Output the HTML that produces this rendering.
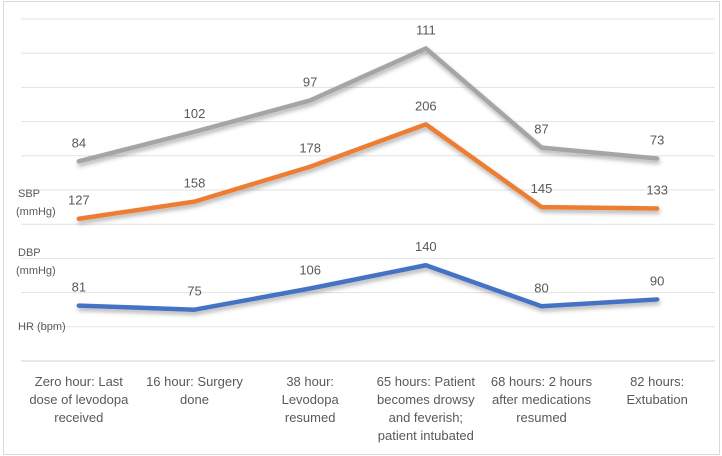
<!DOCTYPE html>
<html><head><meta charset="utf-8"><style>
body{margin:0;background:#fff;}
svg{display:block;font-family:"Liberation Sans",sans-serif;}
</style></head><body>
<svg id="chart" width="722" height="456">
<defs><filter id="sh" x="-10%" y="-10%" width="120%" height="140%"><feDropShadow dx="1" dy="3" stdDeviation="2" flood-color="#000" flood-opacity="0.3"/></filter></defs>
<rect x="3.5" y="1.5" width="716" height="453" fill="#fff" stroke="#d9d9d9"/>
<g id="grid"></g><g id="series"></g><g id="labels"></g><g id="xlabels"></g>
<text x="18" y="197" font-size="11" fill="#595959">SBP</text>
<text x="16" y="215" font-size="11" fill="#595959">(mmHg)</text>
<text x="18" y="256" font-size="11" fill="#595959">DBP</text>
<text x="16" y="274" font-size="11" fill="#595959">(mmHg)</text>
<text x="18" y="330" font-size="11" fill="#595959">HR (bpm)</text>
</svg>
<script>
const categories=[["Zero hour: Last","dose of levodopa","received"],["16 hour: Surgery","done"],["38 hour:","Levodopa","resumed"],["65 hours: Patient","becomes drowsy","and feverish;","patient intubated"],["68 hours: 2 hours","after medications","resumed"],["82 hours:","Extubation"]];
const hrValues=[81,75,106,140,80,90];
const sbpValues=[127,158,178,206,145,133];
const dbpValues=[84,102,97,111,87,73];
const yTicks=[0,50,100,150,200,250,300,350,400,450,500];
const NS="http://www.w3.org/2000/svg";
const x0=21,x1=715,yBase=361,yTop=19,yMax=500;
const bw=(x1-x0)/categories.length;
const xs=i=>x0+bw*(i+0.5);
const ys=v=>yBase-(v/yMax)*(yBase-yTop);
function mk(t,a,p){const e=document.createElementNS(NS,t);for(const k in a)e.setAttribute(k,a[k]);p.appendChild(e);return e;}
const g=document.getElementById('grid');
yTicks.forEach(v=>{const l=mk('line',{x1:x0,x2:x1,y1:ys(v),y2:ys(v),stroke:v===0?'#d0d0d0':'#e2e2e2','stroke-width':1},g);

});
// stacked line
const s1=hrValues.slice();
const s2=hrValues.map((v,i)=>v+sbpValues[i]);
const s3=s2.map((v,i)=>v+dbpValues[i]);
const series=[[s1,hrValues,'#4472c4','hr-line'],[s2,sbpValues,'#ed7d31','sbp-line'],[s3,dbpValues,'#a5a5a5','dbp-line']];
const sg=document.getElementById('series'),lg=document.getElementById('labels');
series.forEach(([cum,raw,col,name])=>{
const p=mk('polyline',{points:cum.map((v,i)=>xs(i)+','+ys(v)).join(' '),fill:'none',stroke:col,'stroke-width':4.5,'stroke-linejoin':'round','stroke-linecap':'round',filter:'url(#sh)'},sg);


raw.forEach((v,i)=>{const t=mk('text',{x:xs(i),y:ys(cum[i])-14,'text-anchor':'middle','font-size':13,fill:'#595959'},lg);t.textContent=v;

});
});
const xg=document.getElementById('xlabels');
categories.forEach((lines,i)=>{lines.forEach((s,j)=>{const t=mk('text',{x:xs(i),y:386+j*18,'text-anchor':'middle','font-size':13,fill:'#595959'},xg);t.textContent=s;

});});
</script>
</body></html>
